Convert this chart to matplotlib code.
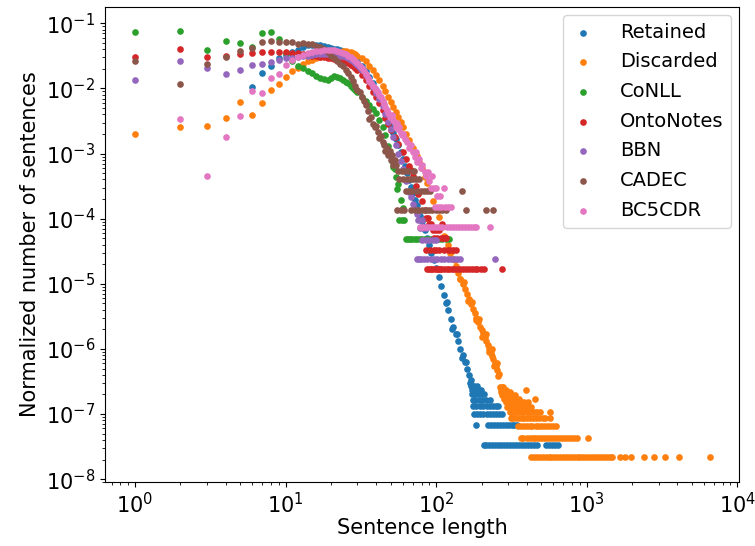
import matplotlib
matplotlib.use("Agg")
import matplotlib.pyplot as plt

# ---- data: sentence length vs. normalized number of sentences ----

retained_len = list(range(6, 31)) + [32, 34, 36, 38, 40, 42, 44, 46, 48, 50, 52, 54, 56, 58, 60, 62, 64, 66, 68,
                                     70, 72, 74, 76, 78, 80, 82, 84, 87, 90, 93, 96, 100, 104, 108, 112, 116, 120,
                                     125, 130, 135, 140, 145, 150, 155, 160, 165, 170,
                                     118, 128, 138, 148, 158, 168]
retained_frac = [1.04e-2, 1.73e-2, 2.23e-2, 2.96e-2, 3.26e-2, 3.6e-2, 3.9e-2, 4.3e-2, 4.6e-2, 4.7e-2,
                 4.7e-2, 4.6e-2, 4.5e-2, 4.4e-2, 4.2e-2, 4.1e-2, 4.0e-2, 3.9e-2, 3.7e-2, 3.55e-2,
                 3.4e-2, 3.2e-2, 3.0e-2, 2.8e-2, 2.6e-2,
                 2.2e-2, 1.85e-2, 1.5e-2, 1.2e-2, 9.5e-3, 7.5e-3, 5.8e-3, 4.5e-3, 3.5e-3, 2.7e-3,
                 2.1e-3, 1.7e-3, 1.35e-3, 1.05e-3, 8.2e-4, 6.4e-4, 5.0e-4, 3.9e-4, 3.1e-4, 2.45e-4,
                 1.95e-4, 1.6e-4, 1.3e-4, 1.1e-4, 9.2e-5, 7.8e-5, 6.6e-5,
                 5.1e-5, 3.9e-5, 3.0e-5, 2.35e-5,
                 1.75e-5, 1.25e-5, 9.2e-6, 6.8e-6, 5.0e-6, 3.9e-6,
                 2.9e-6, 2.2e-6, 1.7e-6, 1.3e-6, 1.0e-6, 8.0e-7, 6.4e-7, 5.0e-7, 4.0e-7, 3.3e-7,
                 5.2e-6, 2.0e-6, 1.7e-6, 7.2e-7, 6.2e-7, 3.0e-7]
retained_tail_levels = [2.67e-7, 2.33e-7, 2.0e-7, 1.67e-7, 1.33e-7, 1.0e-7, 6.67e-8, 3.33e-8]
retained_tail_lengths = [
    [171, 174, 179, 186],
    [172, 177, 183, 191, 199],
    [173, 180, 189, 197, 207],
    [175, 182, 192, 202, 213, 229],
    [176, 184, 194, 204, 216, 226, 238, 249, 259],
    [178, 187, 196, 206, 218, 228, 240, 251, 262, 275],
    [185, 221, 232, 243, 254, 265, 278, 290, 303, 317, 331, 342],
    [208, 215, 223, 233, 245, 256, 268, 281, 295, 309, 323, 338, 354, 370, 387, 405, 424, 444, 465,
     536, 561, 588, 615, 642],
]

discarded_len = (list(range(1, 31)) + list(range(32, 61, 2)) + [63, 66, 70, 74, 77, 80, 84, 87, 90]
                 + list(range(95, 256, 5)) + [262]
                 + [103, 113, 123, 133, 143, 153, 163, 173, 183, 193, 203, 213, 223, 233, 243, 253, 258])
discarded_frac = [2.0e-3, 2.52e-3, 2.64e-3, 3.47e-3, 6.1e-3, 3.9e-3, 6.0e-3, 9.4e-3, 1.17e-2, 1.5e-2,
                  1.85e-2, 2.1e-2, 2.35e-2, 2.6e-2, 2.75e-2, 2.9e-2, 3.0e-2, 3.15e-2, 3.3e-2, 3.4e-2,
                  3.5e-2, 3.6e-2, 3.65e-2, 3.7e-2, 3.7e-2, 3.65e-2, 3.6e-2, 3.5e-2, 3.35e-2, 3.2e-2,
                  2.95e-2, 2.6e-2, 2.25e-2, 1.9e-2, 1.6e-2, 1.35e-2, 1.1e-2, 9.0e-3, 7.4e-3, 6.2e-3,
                  5.2e-3, 4.4e-3, 3.7e-3, 3.1e-3, 2.6e-3,
                  2.0e-3, 1.6e-3, 1.2e-3, 9.2e-4, 7.5e-4, 6.0e-4, 4.4e-4, 3.5e-4, 2.8e-4,
                  1.9e-4, 1.4e-4, 1.07e-4, 7.5e-5, 5.3e-5, 4.0e-5, 3.1e-5, 2.4e-5, 1.85e-5, 1.45e-5,
                  1.2e-5, 1.0e-5, 8.3e-6, 7.0e-6, 5.9e-6, 4.9e-6, 4.1e-6, 3.5e-6, 3.0e-6, 2.6e-6,
                  2.2e-6, 1.95e-6, 1.75e-6, 1.5e-6, 1.3e-6, 1.15e-6, 1.0e-6, 8.8e-7, 7.8e-7, 6.9e-7,
                  6.1e-7, 5.4e-7, 4.8e-7,
                  4.1e-7,
                  1.4e-4, 5.5e-5, 3.0e-5, 2.3e-5, 1.2e-5, 1.05e-5, 5.5e-6, 5.2e-6, 2.8e-6, 2.9e-6,
                  1.55e-6, 1.7e-6, 9.0e-7, 1.0e-6, 5.5e-7, 6.0e-7, 3.8e-7]
discarded_tail_levels = [2.58e-7, 2.37e-7, 2.15e-7, 1.94e-7, 1.72e-7, 1.51e-7, 1.29e-7, 1.08e-7,
                         8.6e-8, 6.45e-8, 4.3e-8, 2.15e-8]
discarded_tail_lengths = [
    [266, 272, 279],
    [268, 276, 284, 293, 395],
    [270, 281, 289, 299, 311],
    [274, 287, 297, 306, 318, 333],
    [283, 292, 302, 314, 326, 341, 356, 455],
    [291, 301, 309, 321, 336, 349, 364, 383, 405],
    [296, 304, 316, 329, 344, 359, 374, 390, 410, 428],
    [308, 319, 331, 346, 361, 378, 398, 413, 431, 451, 470, 490, 567],
    [313, 324, 339, 353, 369, 385, 403, 421, 441, 462, 484, 509, 532, 566],
    [351, 367, 381, 401, 417, 436, 457, 478, 500, 523, 547, 572, 599, 626],
    [366, 380, 399, 418, 437, 456, 477, 499, 522, 546, 571, 597, 625, 654, 684, 715, 748, 782, 818,
     855, 1020],
    [427, 447, 467, 488, 510, 533, 557, 582, 608, 636, 665, 695, 727, 760, 795, 831, 869, 908, 950,
     993, 1038, 1085, 1134, 1186, 1240, 1296, 1355, 1417, 1480, 1660, 1790, 1980, 2400, 2790, 3330,
     4100, 6600],
]

conll_len = list(range(1, 31)) + list(range(32, 51, 2)) + list(range(51, 62))
conll_frac = [7.4e-2, 7.7e-2, 3.93e-2, 5.35e-2, 4.93e-2, 4.33e-2, 7.18e-2, 7.4e-2, 5.8e-2, 3.5e-2,
              2.64e-2, 2.2e-2, 2.05e-2, 1.87e-2, 1.75e-2, 1.55e-2, 1.45e-2, 1.4e-2, 1.35e-2, 1.45e-2,
              1.55e-2, 1.5e-2, 1.45e-2, 1.35e-2, 1.27e-2, 1.2e-2, 1.1e-2, 1.0e-2, 9.5e-3, 8.8e-3,
              7.5e-3, 6.4e-3, 5.5e-3, 4.8e-3, 4.2e-3, 3.3e-3, 2.6e-3, 1.9e-3, 1.3e-3, 9.6e-4,
              7.68e-4, 6.24e-4, 5.76e-4, 4.32e-4, 2.88e-4, 3.36e-4, 9.6e-5, 1.92e-4, 9.6e-5, 1.44e-4, 9.6e-5]
conll_tail_levels = [4.8e-5]
conll_tail_lengths = [[63, 65, 67, 69, 72, 75, 78, 81, 84, 88, 92, 96, 100, 105, 110, 116, 122]]

onto_len = list(range(1, 31)) + list(range(32, 51, 2)) + [53, 56, 60, 63, 66, 68, 70, 73, 76, 80, 84]
onto_frac = [3.07e-2, 4.03e-2, 3.0e-2, 3.18e-2, 3.37e-2, 3.46e-2, 3.66e-2, 3.59e-2, 3.59e-2, 3.59e-2,
             3.55e-2, 3.45e-2, 3.35e-2, 3.25e-2, 3.2e-2, 3.1e-2, 3.05e-2, 3.0e-2, 2.95e-2, 2.9e-2,
             2.85e-2, 2.8e-2, 2.7e-2, 2.65e-2, 2.57e-2, 2.45e-2, 2.3e-2, 2.2e-2, 2.05e-2, 1.9e-2,
             1.6e-2, 1.35e-2, 1.1e-2, 8.8e-3, 7.4e-3, 5.9e-3, 4.7e-3, 3.5e-3, 2.8e-3, 2.3e-3,
             1.8e-3, 1.4e-3, 1.05e-3, 8.2e-4, 6.5e-4, 5.6e-4, 4.5e-4, 3.2e-4, 2.4e-4, 1.85e-4, 1.35e-4]
onto_tail_levels = [1.01e-4, 8.4e-5, 6.72e-5, 5.04e-5, 3.36e-5, 1.68e-5]
onto_tail_lengths = [
    [85, 88],
    [90, 93, 109],
    [95, 100, 105],
    [97, 102, 107, 111, 114, 117],
    [86, 91, 96, 99, 104, 112, 119, 124, 129, 135],
    [87, 89, 92, 94, 98, 101, 103, 106, 108, 113, 118, 122, 127, 131, 137, 143, 150, 158, 165, 172,
     180, 188, 197, 208, 272],
]

bbn_len = list(range(1, 33)) + [34, 36, 38, 40, 42, 44, 46, 48, 50, 52, 54, 56, 58, 60, 63, 66, 68, 70, 72, 74]
bbn_frac = [1.35e-2, 2.64e-2, 2.04e-2, 1.65e-2, 1.9e-2, 2.29e-2, 2.34e-2, 2.52e-2, 2.73e-2, 2.9e-2,
            2.95e-2, 3.0e-2, 3.1e-2, 3.2e-2, 3.3e-2, 3.35e-2, 3.4e-2, 3.4e-2, 3.4e-2, 3.35e-2,
            3.3e-2, 3.25e-2, 3.2e-2, 3.1e-2, 3.0e-2, 2.9e-2, 2.75e-2, 2.6e-2, 2.45e-2, 2.3e-2,
            2.1e-2, 1.95e-2,
            1.6e-2, 1.3e-2, 1.05e-2, 8.5e-3, 6.8e-3, 5.3e-3, 4.1e-3, 3.1e-3, 2.4e-3, 1.8e-3,
            1.35e-3, 1.0e-3, 7.6e-4, 5.7e-4, 3.8e-4, 2.6e-4, 2.13e-4, 1.66e-4, 1.42e-4, 1.19e-4]
bbn_tail_levels = [9.48e-5, 7.11e-5, 4.74e-5, 2.37e-5]
bbn_tail_lengths = [
    [76, 81],
    [78, 82, 86],
    [80, 85, 90, 95, 100],
    [75, 77, 79, 83, 87, 92, 97, 102, 107, 113, 119, 125, 131, 137, 143, 245],
]

cadec_len = list(range(1, 55))
cadec_frac = [2.67e-2, 1.18e-2, 2.34e-2, 3.07e-2, 3.8e-2, 4.13e-2, 5.21e-2, 5.35e-2, 5.2e-2, 5.16e-2,
              5.2e-2, 4.9e-2, 5.0e-2, 4.9e-2, 4.8e-2, 4.5e-2, 4.3e-2, 4.0e-2, 3.6e-2, 3.2e-2,
              2.9e-2, 2.6e-2, 2.4e-2, 2.2e-2, 1.9e-2, 1.75e-2, 1.5e-2, 1.3e-2, 1.1e-2, 9.5e-3,
              8.9e-3, 7.4e-3, 6.5e-3, 5.5e-3, 4.5e-3,
              3.38e-3, 3.65e-3, 2.84e-3, 2.57e-3, 2.7e-3, 2.16e-3, 1.76e-3, 1.89e-3, 1.49e-3, 1.35e-3,
              1.08e-3, 1.22e-3, 9.45e-4, 1.08e-3, 8.1e-4, 9.45e-4, 6.75e-4, 8.1e-4, 6.75e-4]
cadec_tail_levels = [5.4e-4, 4.05e-4, 2.7e-4, 1.35e-4]
cadec_tail_lengths = [
    [56, 59, 62, 65, 71],
    [57, 60, 64, 67, 70, 73, 77],
    [63, 66, 69, 74, 79, 83, 87, 91, 148],
    [55, 58, 61, 68, 72, 76, 81, 85, 89, 94, 99, 104, 110, 116, 158, 213, 237],
]

bc5cdr_len = list(range(2, 61)) + [62, 64, 66, 68, 70, 72, 73, 75, 77, 79, 81, 84, 86, 88, 90, 92, 94, 96,
                                   98, 99, 101, 103, 106, 108, 112, 115, 120, 126]
bc5cdr_frac = [3.35e-3, 4.5e-4, 1.79e-3, 3.73e-3, 9.2e-3, 8.4e-3, 1.45e-2, 1.66e-2, 2.29e-2, 2.73e-2,
               3.07e-2, 3.3e-2, 3.46e-2, 3.6e-2, 3.7e-2, 3.8e-2, 3.85e-2, 3.9e-2, 3.9e-2, 3.85e-2,
               3.75e-2, 3.65e-2, 3.5e-2, 3.35e-2, 3.2e-2, 3.05e-2, 2.85e-2, 2.65e-2, 2.45e-2, 2.25e-2,
               2.05e-2, 1.85e-2, 1.65e-2, 1.45e-2, 1.3e-2, 1.2e-2, 1.1e-2, 1.0e-2, 9.5e-3, 8.9e-3,
               8.0e-3, 7.4e-3, 6.5e-3, 5.7e-3, 5.2e-3, 4.6e-3, 4.2e-3, 3.7e-3, 3.6e-3, 3.9e-3,
               3.3e-3, 2.9e-3, 2.6e-3, 2.9e-3, 2.4e-3, 2.6e-3, 2.1e-3, 1.9e-3, 2.0e-3,
               1.65e-3, 1.5e-3, 1.2e-3, 1.35e-3, 1.05e-3, 9.0e-4, 1.05e-3, 7.5e-4, 8.25e-4, 6.0e-4,
               6.75e-4, 5.25e-4, 4.5e-4, 5.25e-4, 3.75e-4, 3.0e-4, 4.5e-4, 3.0e-4, 1.5e-4, 3.0e-4,
               2.25e-4, 1.5e-4, 2.25e-4, 1.5e-4, 3.0e-4, 1.5e-4, 1.5e-4, 1.5e-4]
bc5cdr_tail_levels = [7.5e-5]
bc5cdr_tail_lengths = [[78, 80, 83, 87, 91, 95, 100, 105, 110, 118, 123, 130, 135, 141, 148, 155, 163,
                        171, 178, 184, 226]]


def with_tail(lengths, fracs, levels, level_lengths):
    # sparse long sentences sit on the discrete count levels
    xs, ys = list(lengths), list(fracs)
    for v, ls in zip(levels, level_lengths):
        xs += ls
        ys += [v] * len(ls)
    return xs, ys


series = [
    ("Retained", with_tail(retained_len, retained_frac, retained_tail_levels, retained_tail_lengths)),
    ("Discarded", with_tail(discarded_len, discarded_frac, discarded_tail_levels, discarded_tail_lengths)),
    ("CoNLL", with_tail(conll_len, conll_frac, conll_tail_levels, conll_tail_lengths)),
    ("OntoNotes", with_tail(onto_len, onto_frac, onto_tail_levels, onto_tail_lengths)),
    ("BBN", with_tail(bbn_len, bbn_frac, bbn_tail_levels, bbn_tail_lengths)),
    ("CADEC", with_tail(cadec_len, cadec_frac, cadec_tail_levels, cadec_tail_lengths)),
    ("BC5CDR", with_tail(bc5cdr_len, bc5cdr_frac, bc5cdr_tail_levels, bc5cdr_tail_lengths)),
]

plt.rcParams['font.size'] = 15

fig = plt.figure(figsize=(7.55, 5.46), dpi=100)
ax = fig.add_axes([0.139, 0.117, 0.840, 0.870])

for name, (xs, ys) in series:
    ax.scatter(xs, ys, s=23, linewidths=0, label=name)

ax.set_xscale('log')
ax.set_yscale('log')
ax.set_xlim(10 ** -0.2, 10 ** 4.012)
ax.set_ylim(10 ** -8.046, 10 ** -0.75)
ax.set_xlabel('Sentence length', labelpad=1)
ax.set_ylabel('Normalized number of sentences')
ax.legend(loc='upper right', fontsize=14, borderaxespad=0.4, handlelength=1.3,
          handletextpad=1.25, labelspacing=0.55)

fig.savefig('out.png', dpi=100)
